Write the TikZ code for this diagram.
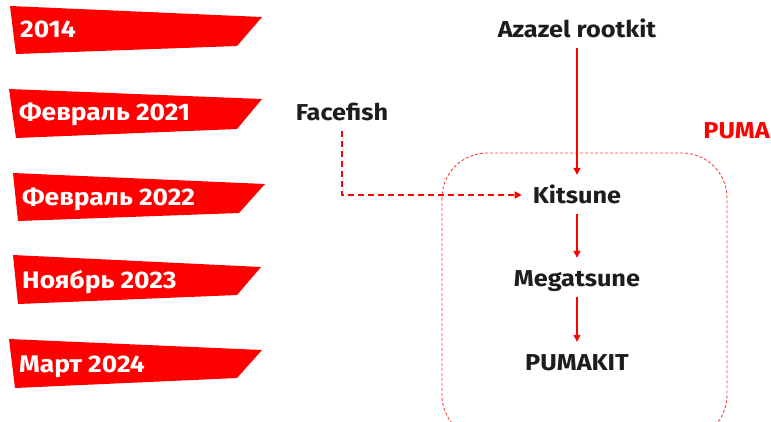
\documentclass[tikz,border=0pt]{standalone}
\usepackage{fontspec}
\setmainfont{Fira Sans}[FakeStretch=1.1]
\usetikzlibrary{arrows.meta}
\definecolor{kred}{RGB}{255,0,0}
\definecolor{ktext}{RGB}{29,29,27}
\tikzset{
  banner/.style={fill=kred, draw=none},
  bantext/.style={anchor=base west, inner sep=0pt, text=white, font=\fontsize{24}{28}\selectfont\bfseries},
  label/.style={anchor=base, inner sep=0pt, text height=16pt, text depth=5pt, text=ktext, font=\fontsize{23}{27}\selectfont\bfseries},
  solidarrow/.style={color=kred, line width=1.2pt, -{Triangle[length=7pt,width=7pt]}, shorten <=6pt, shorten >=12pt},
  dasharrow/.style={color=kred, line width=1.5pt, dash pattern=on 6pt off 4pt, -{Triangle[length=7pt,width=7pt]}, shorten <=6pt, shorten >=11pt},
  groupbox/.style={color=kred!75, line width=0.9pt, dash pattern=on 3pt off 2pt, rounded corners=45pt}
}
\begin{document}
\begin{tikzpicture}[x=1pt,y=-1pt]
\useasboundingbox (0,0) rectangle (771,421);
\clip (0,0) rectangle (771,421);
% banners
\fill[banner] (10,6) -- (262,17) -- (237,46) -- (16,54) -- cycle;
\fill[banner] (9,89) -- (262,99) -- (237,129) -- (16,138) -- cycle;
\fill[banner] (13,173) -- (265,184) -- (239,213) -- (18,221) -- cycle;
\fill[banner] (13,255) -- (261,267) -- (237,295) -- (18,304) -- cycle;
\fill[banner] (9,339) -- (262,350) -- (237,378) -- (15,388) -- cycle;
\node[bantext] (y1) at (20,37) {2014};
\node[bantext] (y2) at (19,120) {Февраль 2021};
\node[bantext] (y3) at (22,205) {Февраль 2022};
\node[bantext] (y4) at (22,288) {Ноябрь 2023};
\node[bantext] (y5) at (19,372) {Март 2024};
% group box
\draw[groupbox] (442,153) rectangle (727,440);
\node[anchor=base east, inner sep=0pt, text=kred, font=\fontsize{23}{27}\selectfont\bfseries] (puma) at (770,138) {PUMA};
% labels
\node[label] (az) at (577,37) {Azazel rootkit};
\node[label] (ff) at (342,120) {Facefish};
\node[label] (ki) at (577,203) {Kitsune};
\node[label] (me) at (577,286) {Megatsune};
\node[label] (pk) at (577,370) {PUMAKIT};
% connectors
\draw[solidarrow] (az.south) -- (ki.north);
\draw[solidarrow] (ki.south) -- (me.north);
\draw[solidarrow] (me.south) -- (pk.north);
\draw[dasharrow] (ff.south) |- ([yshift=2.5pt]ki.west);
\end{tikzpicture}
\end{document}
